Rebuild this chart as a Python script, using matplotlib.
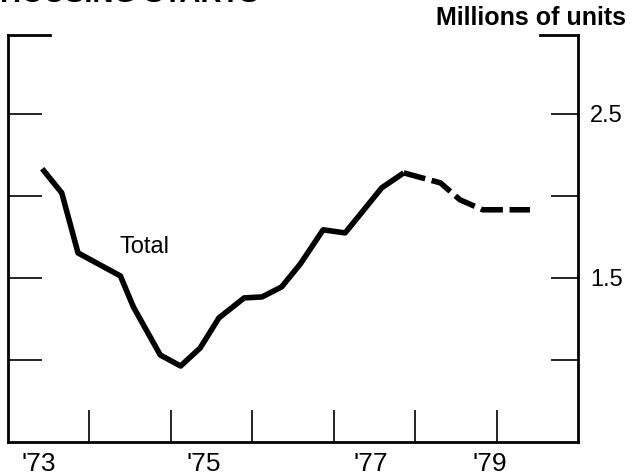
import matplotlib
matplotlib.use("Agg")
import matplotlib.pyplot as plt

plt.rcParams['font.family'] = ['Liberation Sans', 'DejaVu Sans']

# Data (decimal years, millions of units)
years_actual = [1973.42, 1973.66, 1973.86, 1974.38, 1974.54, 1974.87, 1975.12,
                1975.36, 1975.59, 1975.90, 1976.12, 1976.36, 1976.59, 1976.87,
                1977.14, 1977.59, 1977.86]
starts_actual = [2.165, 2.018, 1.652, 1.512, 1.323, 1.030, 0.963,
                 1.073, 1.256, 1.378, 1.384, 1.445, 1.585, 1.793,
                 1.774, 2.049, 2.140]
years_proj = [1977.86, 1978.31, 1978.55, 1978.83, 1979.41]
starts_proj = [2.140, 2.079, 1.976, 1.915, 1.915]

year_ticks = [1974, 1975, 1976, 1977, 1978, 1979]
year_label_pos = [1973.38, 1975.41, 1977.45, 1978.92]
year_labels = ["'73", "'75", "'77", "'79"]
y_ticks = [1.0, 1.5, 2.0, 2.5]
y_tick_labels = ["", "1.5", "", "2.5"]

W, H = 632, 476
fig = plt.figure(figsize=(W / 100, H / 100), dpi=100)
left, right, bottom, top = 8, 578, 442, 35
ax = fig.add_axes([left / W, 1 - bottom / H, (right - left) / W, (bottom - top) / H])
ax.set_xlim(1973.0, 1980.0)
ax.set_ylim(0.5, 2.98)

ax.plot(years_actual, starts_actual, color='black', lw=4.0,
        solid_joinstyle='round', solid_capstyle='butt')
ax.plot(years_proj, starts_proj, color='black', lw=4.0, dashes=(4, 1.2),
        dash_capstyle='butt')

for s in ['left', 'right', 'bottom']:
    ax.spines[s].set_linewidth(2.0)
ax.spines['top'].set_visible(False)
# corner brackets at top
ax.plot([0, 42 / 570], [1, 1], transform=ax.transAxes, color='black', lw=2.0,
        clip_on=False, solid_capstyle='projecting')
ax.plot([1 - 38 / 570, 1], [1, 1], transform=ax.transAxes, color='black', lw=2.0,
        clip_on=False, solid_capstyle='projecting')

# x ticks
ax.set_xticks(year_ticks)
ax.set_xticklabels([])
ax.tick_params(axis='x', which='major', direction='in', length=23, width=1.2)
ax.set_xticks(year_label_pos, year_labels, minor=True)
ax.tick_params(axis='x', which='minor', length=0, pad=7, labelsize=19)

# left y ticks
ax.set_yticks(y_ticks)
ax.tick_params(axis='y', which='major', direction='in', length=24.5, width=1.2,
               left=True, right=False, labelleft=False)

# right y ticks
ax2 = ax.twinx()
ax2.set_ylim(ax.get_ylim())
ax2.set_yticks(y_ticks, y_tick_labels)
ax2.tick_params(axis='y', direction='in', length=19.5, width=1.2, pad=8.5,
                labelsize=17)
for s in ax2.spines.values():
    s.set_visible(False)

ax.text(1974.68, 1.69, 'Total', fontsize=17, ha='center', va='center')
fig.text(626 / W, 1 - 18 / H, 'Millions of units', fontsize=18, fontweight='bold',
         ha='right', va='center')
fig.text(0.0, 1 - 2 / H, 'HOUSING STARTS', fontsize=21, fontweight='bold',
         ha='left', va='baseline')

fig.savefig('out.png', dpi=100)
